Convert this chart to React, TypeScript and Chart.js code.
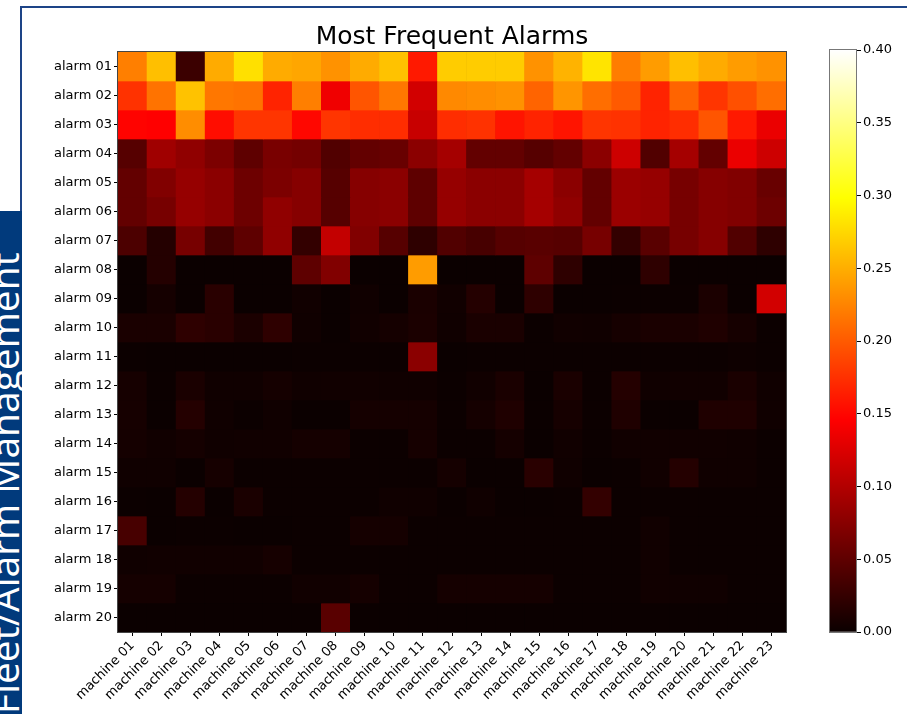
import React, { useEffect, useRef } from "react";
import { Chart, registerables } from "chart.js";

Chart.register(...registerables);

const machines = [
  "machine 01", "machine 02", "machine 03", "machine 04", "machine 05", "machine 06",
  "machine 07", "machine 08", "machine 09", "machine 10", "machine 11", "machine 12",
  "machine 13", "machine 14", "machine 15", "machine 16", "machine 17", "machine 18",
  "machine 19", "machine 20", "machine 21", "machine 22", "machine 23",
];

const alarms = [
  "alarm 01", "alarm 02", "alarm 03", "alarm 04", "alarm 05", "alarm 06", "alarm 07",
  "alarm 08", "alarm 09", "alarm 10", "alarm 11", "alarm 12", "alarm 13", "alarm 14",
  "alarm 15", "alarm 16", "alarm 17", "alarm 18", "alarm 19", "alarm 20",
];

const alarm01 = [0.222, 0.26, 0.029, 0.248, 0.28, 0.248, 0.245, 0.233, 0.248, 0.262, 0.161, 0.268, 0.268, 0.268, 0.233, 0.253, 0.282, 0.221, 0.239, 0.26, 0.248, 0.239, 0.233];
const alarm02 = [0.176, 0.215, 0.262, 0.217, 0.215, 0.167, 0.222, 0.137, 0.197, 0.217, 0.119, 0.228, 0.23, 0.233, 0.206, 0.235, 0.212, 0.2, 0.167, 0.206, 0.178, 0.194, 0.212];
const alarm03 = [0.148, 0.146, 0.23, 0.154, 0.178, 0.178, 0.15, 0.178, 0.173, 0.173, 0.113, 0.173, 0.176, 0.158, 0.167, 0.158, 0.178, 0.176, 0.167, 0.173, 0.197, 0.161, 0.134];
const alarm04 = [0.045, 0.089, 0.08, 0.068, 0.05, 0.066, 0.063, 0.042, 0.053, 0.056, 0.077, 0.092, 0.053, 0.053, 0.045, 0.053, 0.077, 0.116, 0.042, 0.092, 0.053, 0.134, 0.116];
const alarm05 = [0.053, 0.071, 0.083, 0.077, 0.059, 0.068, 0.074, 0.045, 0.074, 0.077, 0.05, 0.083, 0.077, 0.077, 0.092, 0.077, 0.053, 0.086, 0.083, 0.065, 0.074, 0.071, 0.056];
const alarm06 = [0.053, 0.065, 0.083, 0.077, 0.059, 0.08, 0.074, 0.045, 0.074, 0.077, 0.05, 0.083, 0.077, 0.077, 0.092, 0.08, 0.053, 0.086, 0.083, 0.065, 0.074, 0.071, 0.059];
const alarm07 = [0.039, 0.015, 0.065, 0.033, 0.05, 0.08, 0.024, 0.11, 0.071, 0.045, 0.021, 0.042, 0.036, 0.045, 0.047, 0.045, 0.065, 0.024, 0.047, 0.065, 0.074, 0.042, 0.021];
const alarm08 = [0, 0.015, 0, 0, 0, 0, 0.05, 0.071, 0, 0, 0.239, 0, 0, 0, 0.05, 0.021, 0, 0, 0.021, 0, 0, 0, 0];
const alarm09 = [0, 0.006, 0, 0.018, 0, 0, 0.004, 0, 0.003, 0, 0.009, 0.004, 0.015, 0, 0.021, 0, 0, 0.001, 0.001, 0.001, 0.01, 0, 0.119];
const alarm10 = [0.009, 0.009, 0.021, 0.018, 0.01, 0.021, 0.003, 0, 0.004, 0.006, 0.01, 0.003, 0.009, 0.009, 0.001, 0.004, 0.003, 0.007, 0.009, 0.009, 0.012, 0.007, 0.001];
const alarm11 = [0.001, 0, 0, 0, 0, 0, 0.001, 0.001, 0.001, 0.001, 0.077, 0, 0.001, 0.001, 0.001, 0.001, 0.001, 0.001, 0.001, 0.001, 0.001, 0.002, 0.001];
const alarm12 = [0.007, 0.001, 0.009, 0.003, 0.003, 0.006, 0.003, 0.004, 0.004, 0.003, 0.003, 0.001, 0.004, 0.009, 0, 0.009, 0.001, 0.015, 0.003, 0.004, 0.004, 0.009, 0.003];
const alarm13 = [0.007, 0, 0.015, 0.003, 0.001, 0.003, 0, 0, 0.006, 0.006, 0.006, 0.001, 0.006, 0.012, 0, 0.007, 0.001, 0.012, 0, 0, 0.012, 0.012, 0.003];
const alarm14 = [0.006, 0.004, 0.006, 0.003, 0.004, 0.004, 0.006, 0.006, 0.001, 0.001, 0.007, 0.001, 0.001, 0.006, 0, 0.004, 0.001, 0.004, 0.004, 0.004, 0.004, 0.003, 0.001];
const alarm15 = [0.003, 0.003, 0, 0.007, 0.001, 0.001, 0.001, 0.001, 0.001, 0.001, 0.001, 0.006, 0, 0, 0.018, 0.003, 0, 0.001, 0.004, 0.015, 0.003, 0.003, 0.001];
const alarm16 = [0.001, 0, 0.015, 0, 0.009, 0.001, 0.001, 0.001, 0.001, 0.003, 0.003, 0, 0.003, 0, 0, 0.001, 0.024, 0.001, 0.001, 0.001, 0.001, 0.001, 0.001];
const alarm17 = [0.036, 0, 0.001, 0.001, 0, 0, 0.001, 0.001, 0.006, 0.006, 0.001, 0.001, 0.001, 0.001, 0.001, 0.001, 0.001, 0.001, 0.004, 0.001, 0.001, 0.001, 0.001];
const alarm18 = [0.003, 0.004, 0.004, 0.004, 0.004, 0.007, 0.001, 0.001, 0.001, 0.001, 0.001, 0.001, 0.001, 0.001, 0.001, 0.001, 0.001, 0.001, 0.004, 0.001, 0.001, 0.001, 0.001];
const alarm19 = [0.006, 0.006, 0.001, 0.001, 0.001, 0.001, 0.004, 0.004, 0.006, 0.001, 0.001, 0.006, 0.006, 0.006, 0.006, 0.001, 0.001, 0.001, 0.004, 0.003, 0.003, 0.001, 0.001];
const alarm20 = [0, 0, 0, 0, 0, 0, 0, 0.047, 0, 0, 0, 0, 0, 0, 0, 0, 0, 0, 0, 0, 0, 0, 0];

const matrix = [
  alarm01, alarm02, alarm03, alarm04, alarm05, alarm06, alarm07, alarm08, alarm09, alarm10,
  alarm11, alarm12, alarm13, alarm14, alarm15, alarm16, alarm17, alarm18, alarm19, alarm20,
];

const vmin = 0;
const vmax = 0.4;
const colorbarTicks = [0, 0.05, 0.1, 0.15, 0.2, 0.25, 0.3, 0.35, 0.4];

const TICK_FONT = { family: "'DejaVu Sans', sans-serif", size: 13 };

// matplotlib "hot" colormap
function hot(v: number): string {
  const t = Math.min(1, Math.max(0, (v - vmin) / (vmax - vmin)));
  const k1 = 0.365079;
  const k2 = 0.746032;
  const r = t < k1 ? 0.0416 + (1 - 0.0416) * (t / k1) : 1;
  const g = t < k1 ? 0 : t < k2 ? (t - k1) / (k2 - k1) : 1;
  const b = t < k2 ? 0 : (t - k2) / (1 - k2);
  return `rgb(${Math.round(r * 255)},${Math.round(g * 255)},${Math.round(b * 255)})`;
}

export default function App() {
  const heatRef = useRef<HTMLCanvasElement>(null);
  const barRef = useRef<HTMLCanvasElement>(null);

  useEffect(() => {
    const framePlugin = {
      id: "frame",
      beforeDatasetsDraw(chart: any) {
        const { ctx, chartArea: a } = chart;
        ctx.save();
        ctx.fillStyle = hot(0);
        ctx.fillRect(a.left, a.top, a.right - a.left, a.bottom - a.top);
        ctx.restore();
      },
      afterDatasetsDraw(chart: any) {
        const { ctx, chartArea: a } = chart;
        ctx.save();
        ctx.strokeStyle = "#444";
        ctx.lineWidth = 1;
        ctx.strokeRect(Math.round(a.left) - 0.5, Math.round(a.top) - 0.5, Math.round(a.right - a.left) + 1, Math.round(a.bottom - a.top) + 1);
        ctx.restore();
      },
    };

    const heat = new Chart(heatRef.current as HTMLCanvasElement, {
      type: "bar",
      data: {
        labels: machines,
        datasets: matrix.map((row, i) => ({
          label: alarms[i],
          data: row.map(() => 1),
          backgroundColor: row.map((v) => hot(v)),
          borderWidth: 0,
          barPercentage: 1,
          categoryPercentage: 1,
        })),
      },
      options: {
        responsive: false,
        animation: false,
        layout: { padding: { left: 0, right: 3, top: 0, bottom: 0 } },
        plugins: {
          legend: { display: false },
          tooltip: { enabled: false },
          title: {
            display: true,
            text: "Most Frequent Alarms",
            color: "#000",
            font: { family: "'DejaVu Sans', sans-serif", size: 25, weight: "normal", lineHeight: 1.2 },
            padding: { top: 22, bottom: 0 },
          },
        },
        scales: {
          x: {
            stacked: true,
            offset: true,
            grid: { display: true, drawOnChartArea: false, drawTicks: true, tickLength: 4, color: "#000", offset: false },
            border: { display: false },
            ticks: {
              autoSkip: false,
              minRotation: 45,
              maxRotation: 45,
              padding: 2,
              color: "#000",
              font: TICK_FONT,
            },
            afterFit: (s: any) => {
              s.height = 82;
            },
          },
          y: {
            type: "linear",
            stacked: true,
            reverse: true,
            min: 0,
            max: alarms.length,
            grid: { display: true, drawOnChartArea: false, drawTicks: true, tickLength: 4, color: "#000" },
            border: { display: false },
            afterBuildTicks: (s: any) => {
              s.ticks = alarms.map((_, i) => ({ value: i + 0.5 }));
            },
            ticks: {
              autoSkip: false,
              padding: 2,
              color: "#000",
              font: TICK_FONT,
              callback: (_v: any, i: number) => alarms[i],
            },
            afterFit: (s: any) => {
              s.width = 118;
            },
          },
          yRightSpace: {
            type: "linear",
            position: "right",
            display: true,
            grid: { display: false },
            border: { display: false },
            ticks: { display: false },
            afterFit: (s: any) => {
              s.width = 118;
            },
          },
        },
      },
      plugins: [framePlugin],
    });

    const outline = {
      id: "outline",
      afterDatasetsDraw(chart: any) {
        const { ctx, chartArea: a } = chart;
        ctx.save();
        ctx.strokeStyle = "#777";
        ctx.lineWidth = 1;
        ctx.strokeRect(Math.round(a.left) + 0.5, Math.round(a.top) - 0.5, Math.round(a.right - a.left) - 1, Math.round(a.bottom - a.top) + 1);
        ctx.restore();
      },
    };

    const cb = new Chart(barRef.current as HTMLCanvasElement, {
      type: "bar",
      data: {
        labels: ["colorbar"],
        datasets: [
          {
            data: [[vmin, vmax]] as any,
            backgroundColor: (c: any) => {
              const area = c.chart.chartArea;
              if (!area) return "#000";
              const g = c.chart.ctx.createLinearGradient(0, area.bottom, 0, area.top);
              g.addColorStop(0, "rgb(11,0,0)");
              g.addColorStop(0.365079, "rgb(255,0,0)");
              g.addColorStop(0.746032, "rgb(255,255,0)");
              g.addColorStop(1, "rgb(255,255,255)");
              return g;
            },
            borderWidth: 0,
            barPercentage: 1,
            categoryPercentage: 1,
          },
        ],
      },
      options: {
        responsive: false,
        animation: false,
        layout: { padding: { left: 0, right: 0, top: 50, bottom: 82 } },
        plugins: { legend: { display: false }, tooltip: { enabled: false } },
        scales: {
          x: { display: false },
          y: {
            position: "right",
            min: vmin,
            max: vmax,
            grid: { display: true, drawOnChartArea: false, drawTicks: true, tickLength: 4, color: "#000" },
            border: { display: false },
            afterBuildTicks: (s: any) => {
              s.ticks = colorbarTicks.map((v) => ({ value: v }));
            },
            ticks: {
              padding: 2,
              color: "#000",
              font: TICK_FONT,
              callback: (v: any) => Number(v).toFixed(2),
            },
            afterFit: (s: any) => {
              s.width = 50;
            },
          },
        },
      },
      plugins: [outline],
    });

    return () => {
      heat.destroy();
      cb.destroy();
    };
  }, []);

  return (
    <div style={{ position: "fixed", left: 0, top: 0, width: 907, height: 714, background: "#fff", overflow: "hidden" }}>
      <div
        style={{
          position: "absolute",
          left: 20,
          top: 6,
          width: 900,
          height: 220,
          borderTop: "2px solid #1d4487",
          borderLeft: "2px solid #1d4487",
        }}
      />
      <div
        style={{
          position: "absolute",
          left: 0,
          top: 211,
          width: 22,
          height: 503,
          background: "#013a7c",
          overflow: "hidden",
        }}
      >
        <span
          style={{
            position: "absolute",
            left: -16,
            top: 503,
            transformOrigin: "0 0",
            transform: "rotate(-90deg)",
            color: "#fff",
            fontFamily: "'Open Sans', sans-serif",
            fontSize: 39,
            lineHeight: 1,
            whiteSpace: "nowrap",
          }}
        >
          Fleet/Alarm Management
        </span>
      </div>
      <canvas ref={heatRef} width={907} height={714} style={{ position: "absolute", left: 0, top: 0 }} />
      <canvas ref={barRef} width={78} height={714} style={{ position: "absolute", left: 829, top: 0 }} />
    </div>
  );
}
